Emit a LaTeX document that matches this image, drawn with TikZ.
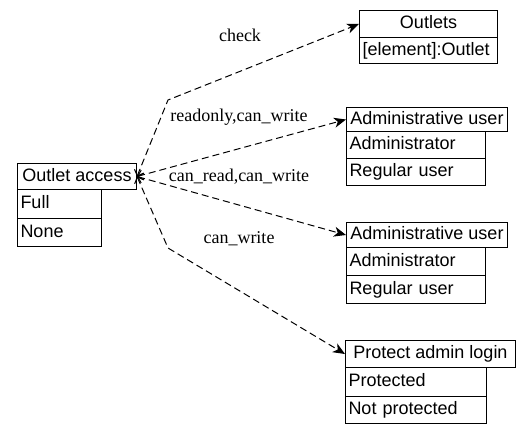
\documentclass[tikz,border=0pt]{standalone}
\usepackage{fontspec}
\setmainfont{Liberation Serif}
\setsansfont{Liberation Sans}
\usetikzlibrary{arrows.meta}
\begin{document}
\begin{tikzpicture}[x=1pt,y=-1pt,
  box/.style={draw, line width=1pt, inner sep=0pt, anchor=north west,
    text height=13pt, text depth=4pt, font=\sffamily\fontsize{18}{20}\selectfont},
  ttl/.style={box, align=center},
  rowbox/.style={box, align=left, inner xsep=3pt},
  lbl/.style={font=\rmfamily\fontsize{18}{20}\selectfont, inner sep=0pt},
  conn/.style={line width=1pt, dash pattern=on 7pt off 4pt,
    {Straight Barb[length=5pt,width=10pt,line width=1pt]}-{Stealth[length=12pt,width=10pt,inset=3.5pt]}}
]
\useasboundingbox (0,0) rectangle (525,434);
% Outlet access
\node[ttl, minimum width=119pt, minimum height=26pt] (oa) at (17,163) {Outlet access};
\node[rowbox, text width=78pt, minimum height=29pt] (oaF) at (17,189) {Full};
\node[rowbox, text width=78pt, minimum height=28pt] (oaN) at (17,218) {None};
% Outlets
\node[ttl, minimum width=138pt, minimum height=27pt] (out) at (359,10) {Outlets};
\node[rowbox, text width=132pt, minimum height=26pt] (outE) at (359,37) {[element]:Outlet};
% Administrative user 1
\node[ttl, minimum width=161pt, minimum height=24pt] (au1) at (346,107) {Administrative user};
\node[rowbox, text width=133pt, minimum height=27pt] (au1a) at (346,131) {Administrator};
\node[rowbox, text width=133pt, minimum height=27pt] (au1r) at (346,158) {Regular user};
% Administrative user 2
\node[ttl, minimum width=161pt, minimum height=25pt] (au2) at (346,222) {Administrative user};
\node[rowbox, text width=133pt, minimum height=28pt] (au2a) at (346,247) {Administrator};
\node[rowbox, text width=133pt, minimum height=28pt] (au2r) at (346,275) {Regular user};
% Protect admin login
\node[ttl, minimum width=170pt, minimum height=27pt] (pal) at (345,340) {Protect admin login};
\node[rowbox, text width=135pt, minimum height=29pt] (palp) at (345,367) {Protected};
\node[rowbox, text width=135pt, minimum height=27pt] (paln) at (345,396) {Not protected};
% bend points
\coordinate (b1) at (168,100);
\coordinate (b2) at (168,248);
% connectors
\draw[conn] (oa.east) -- (b1) -- (out.west);
\draw[conn] (oa.east) -- (au1.west);
\draw[conn] (oa.east) -- (au2.west);
\draw[conn] (oa.east) -- (b2) -- (pal.west);
% labels
\node[lbl] (l1) at (240,35) {check};
\node[lbl] (l2) at (239,117) {readonly,can\_write};
\node[lbl] (l3) at (239,177) {can\_read,can\_write};
\node[lbl] (l4) at (239,239) {can\_write};
\end{tikzpicture}
\end{document}
